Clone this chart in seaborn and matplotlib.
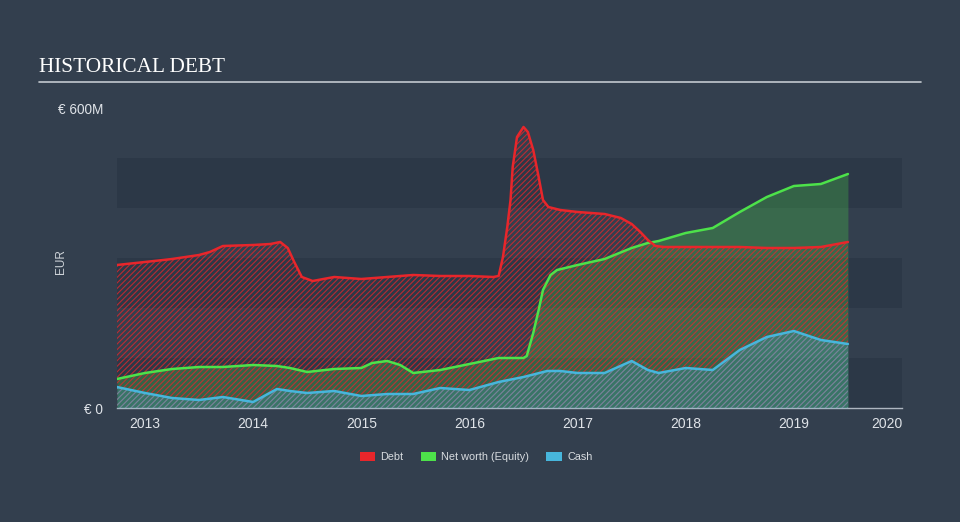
import matplotlib
matplotlib.use("Agg")
import matplotlib.pyplot as plt
from matplotlib.patches import Patch
from matplotlib.lines import Line2D
import seaborn as sns
import numpy as np

# ---------------- data (EUR millions) ----------------
debt_dates = [2012.74, 2013.0, 2013.25, 2013.5, 2013.6, 2013.72, 2014.0, 2014.16, 2014.25,
              2014.32, 2014.38, 2014.45, 2014.55, 2014.75, 2015.0, 2015.24, 2015.48, 2015.73,
              2016.0, 2016.22, 2016.27, 2016.31, 2016.35, 2016.38, 2016.4, 2016.44, 2016.5,
              2016.54, 2016.59, 2016.64, 2016.68, 2016.73, 2016.84, 2017.0, 2017.25, 2017.4,
              2017.5, 2017.58, 2017.65, 2017.72, 2017.8, 2018.0, 2018.25, 2018.5, 2018.75,
              2019.0, 2019.25, 2019.5]
debt = [286, 292, 298, 306, 312, 324, 326, 328, 332,
        320, 292, 262, 254, 262, 258, 262, 266, 264,
        264, 262, 264, 302, 362, 416, 482, 542, 562,
        552, 516, 462, 416, 402, 396, 392, 388, 380,
        368, 352, 336, 324, 322, 322, 322, 322, 320,
        320, 322, 332]

equity_dates = [2012.74, 2013.0, 2013.25, 2013.5, 2013.72, 2014.0, 2014.22, 2014.34, 2014.5,
                2014.75, 2015.0, 2015.1, 2015.24, 2015.36, 2015.48, 2015.73, 2016.0, 2016.27,
                2016.5, 2016.53, 2016.59, 2016.64, 2016.68, 2016.75, 2016.81, 2017.0, 2017.25,
                2017.5, 2017.65, 2017.75, 2018.0, 2018.25, 2018.5, 2018.75, 2019.0, 2019.25,
                2019.5]
equity = [58, 70, 78, 82, 82, 86, 84, 80, 72,
          78, 80, 90, 94, 86, 70, 76, 88, 100,
          100, 104, 150, 196, 236, 266, 276, 286, 298,
          320, 330, 334, 350, 360, 392, 422, 444, 448,
          468]

cash_dates = [2012.74, 2013.0, 2013.25, 2013.5, 2013.72, 2014.0, 2014.22, 2014.34, 2014.5,
              2014.75, 2015.0, 2015.24, 2015.48, 2015.73, 2016.0, 2016.27, 2016.5, 2016.72,
              2016.84, 2017.0, 2017.25, 2017.5, 2017.65, 2017.75, 2018.0, 2018.25, 2018.5,
              2018.75, 2019.0, 2019.25, 2019.5]
cash = [42, 30, 20, 16, 22, 12, 38, 34, 30,
        34, 24, 28, 28, 40, 36, 52, 62, 74,
        74, 70, 70, 94, 76, 70, 80, 76, 116,
        142, 154, 136, 128]

years = [2013, 2014, 2015, 2016, 2017, 2018, 2019, 2020]
year_labels = [str(y) for y in years]
series_names = ["Debt", "Net worth (Equity)", "Cash"]

# ---------------- style ----------------
BG = "#333f4e"
BAND = "#2c3847"
RED = "#e8262b"
GREEN = "#4de24a"
BLUE = "#47b6dc"
TXT = "#dfe3e8"

sns.set_style("dark")
plt.rcParams["font.family"] = ["Liberation Sans", "DejaVu Sans"]
plt.rcParams["hatch.linewidth"] = 0.8

fig = plt.figure(figsize=(9.6, 5.22), dpi=100, facecolor=BG)
ax = fig.add_axes([117 / 960, 1 - 408 / 522, (902 - 117) / 960, 300 / 522])
ax.set_facecolor("none")

# bands
for lo in (0, 200, 400):
    ax.axhspan(lo, lo + 100, color=BAND, zorder=0, lw=0)

# equity solid fill
ax.fill_between(equity_dates, 0, equity, color=GREEN, alpha=0.26, lw=0, zorder=1)
# debt hatched fill
ax.fill_between(debt_dates, 0, debt, facecolor="none", edgecolor=(0.91, 0.15, 0.17, 0.75),
                hatch="//////", lw=0, zorder=2)
# cash fill
ax.fill_between(cash_dates, 0, cash, color=BLUE, alpha=0.22, lw=0, zorder=3)
ax.fill_between(cash_dates, 0, cash, facecolor="none", edgecolor=(0.28, 0.71, 0.86, 0.55),
                hatch="//////", lw=0, zorder=3)

line_kw = dict(lw=1.8, solid_joinstyle="round", solid_capstyle="round")
sns.lineplot(x=equity_dates, y=equity, color=GREEN, ax=ax, zorder=5, **line_kw)
sns.lineplot(x=debt_dates, y=debt, color=RED, ax=ax, zorder=6, **line_kw)
sns.lineplot(x=cash_dates, y=cash, color=BLUE, ax=ax, zorder=7, **line_kw)

ax.set_xlim(2012.741, 2020.0)
ax.set_ylim(0, 600)
ax.grid(False)
for s in ("left", "right", "top"):
    ax.spines[s].set_visible(False)
ax.spines["bottom"].set_color("#aeb6c0")
ax.spines["bottom"].set_linewidth(1.0)

ax.set_xticks(years)
ax.set_xticklabels(year_labels)
ax.tick_params(axis="x", colors="#aeb6c0", length=5, width=1, labelcolor=TXT,
               labelsize=10, pad=1.5)
ax.get_xticklabels()[-1].set_ha("right")
ax.set_yticks([0, 600])
ax.set_yticklabels(["€ 0", "€ 600M"])
ax.tick_params(axis="y", length=0, labelcolor=TXT, labelsize=9.8, pad=10)
ax.set_xlabel("")
ax.set_ylabel("")

fig.text(61 / 960, 1 - 262 / 522, "EUR", rotation=90, color="#d0d5da", fontsize=8.5,
         ha="center", va="center")

fig.text(39 / 960, 1 - 67 / 522, "HISTORICAL DEBT", color="white", fontsize=15.3,
         family=["Liberation Serif", "DejaVu Serif"], ha="left", va="center")
fig.add_artist(Line2D([39 / 960, 921 / 960], [1 - 82 / 522] * 2, color="#c3c9cf", lw=1.2))

handles = [Patch(facecolor=RED, edgecolor="none"), Patch(facecolor=GREEN, edgecolor="none"),
           Patch(facecolor=BLUE, edgecolor="none")]
fig.legend(handles, series_names, loc="center", bbox_to_anchor=(476 / 960, 1 - 457 / 522),
           ncol=3, frameon=False, fontsize=7.8, labelcolor="#d8dce0", handlelength=1.4,
           handleheight=1.0, columnspacing=1.6, handletextpad=0.5)

fig.savefig("out.png", dpi=100, facecolor=BG)
